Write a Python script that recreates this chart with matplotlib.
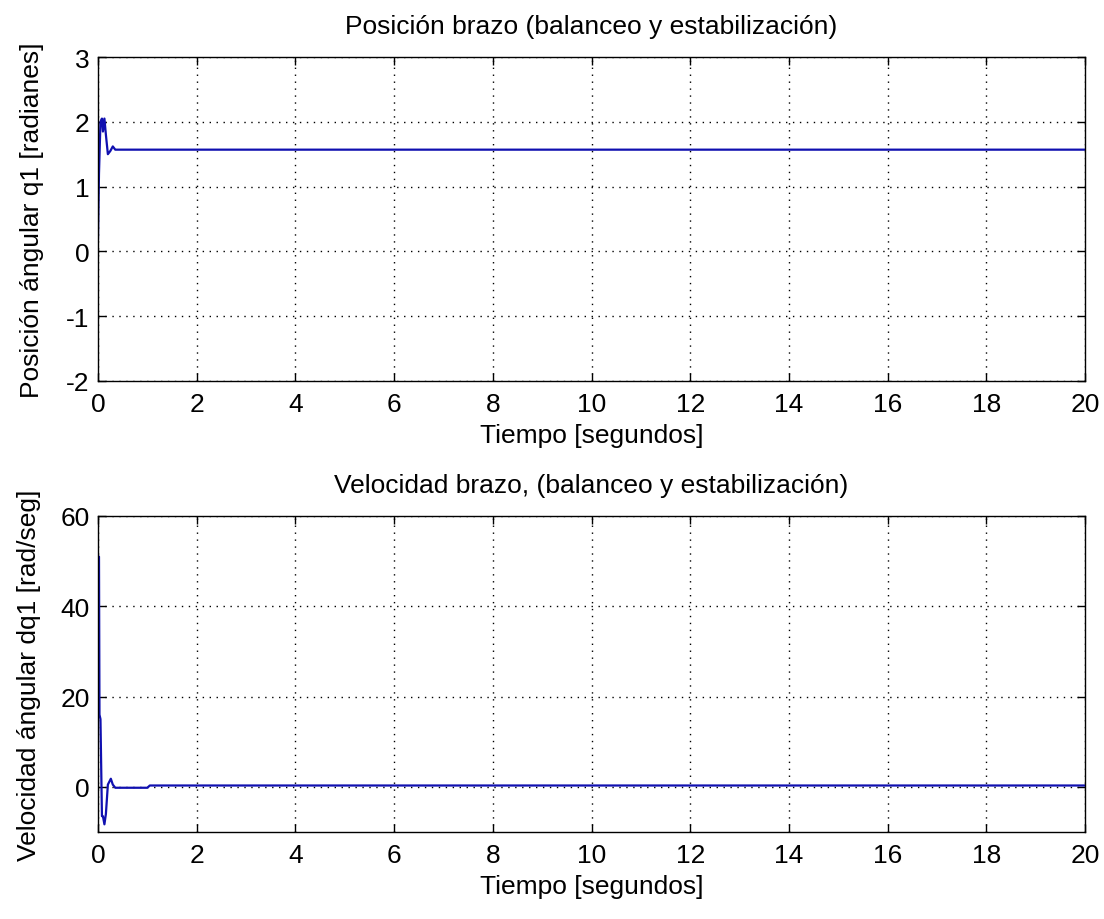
import matplotlib
matplotlib.use("Agg")
import matplotlib.pyplot as plt

plt.rcParams['font.family'] = ['Liberation Sans', 'DejaVu Sans']
plt.rcParams['axes.unicode_minus'] = False

# Position q1 (rad) vs time (s)
t_pos = [0.0, 0.02, 0.05, 0.08, 0.10, 0.13, 0.16, 0.20, 0.25, 0.30, 0.35, 0.40, 20.0]
q1 = [0.2, 1.2, 2.0, 2.05, 1.85, 2.05, 1.8, 1.5, 1.55, 1.62, 1.57, 1.57, 1.57]

# Velocity dq1 (rad/s) vs time (s)
t_vel = [0.0, 0.02, 0.03, 0.05, 0.08, 0.10, 0.13, 0.16, 0.20, 0.26, 0.30, 0.35, 0.40, 1.0, 1.05, 20.0]
dq1 = [51.0, 51.0, 16.0, 15.0, -6.5, -6.5, -8.3, -6.0, 0.5, 1.8, 0.5, -0.2, -0.2, -0.2, 0.3, 0.3]

xticks = [0, 2, 4, 6, 8, 10, 12, 14, 16, 18, 20]
yticks_pos = [-2, -1, 0, 1, 2, 3]
yticks_vel = [0, 20, 40, 60]

W, H = 1104, 920
fig = plt.figure(figsize=(W / 100, H / 100), dpi=100)
ax1 = fig.add_axes([98 / W, 1 - 382 / H, 987 / W, 324 / H])
ax2 = fig.add_axes([98 / W, 1 - 833 / H, 987 / W, 316 / H])

line_color = '#1010b0'
fs = 19

def style(ax):
    ax.grid(True, color='black', linestyle=(0, (1, 4)), linewidth=1.0)
    ax.tick_params(direction='in', length=6, top=True, right=True, labelsize=fs, width=1)
    ax.tick_params(axis='x', pad=8)
    ax.tick_params(axis='y', pad=6)
    for s in ax.spines.values():
        s.set_linewidth(1.0)
    ax.set_xlim(0, 20)
    ax.set_xticks(xticks)
    ax.set_xlabel('Tiempo [segundos]', fontsize=fs, labelpad=5)

ax1.plot(t_pos, q1, color=line_color, linewidth=1.6)
style(ax1)
ax1.set_ylim(-2, 3)
ax1.set_yticks(yticks_pos)
ax1.set_ylabel('Posición ángular q1 [radianes]', fontsize=fs, labelpad=16)
ax1.set_title('Posición brazo (balanceo y estabilización)', fontsize=fs, pad=17)

ax2.plot(t_vel, dq1, color=line_color, linewidth=1.6)
style(ax2)
ax2.set_ylim(-10, 60)
ax2.set_yticks(yticks_vel)
ax2.set_ylabel('Velocidad ángular dq1 [rad/seg]', fontsize=fs, labelpad=14)
ax2.set_title('Velocidad brazo, (balanceo y estabilización)', fontsize=fs, pad=17)

fig.savefig('out.png', dpi=100)
